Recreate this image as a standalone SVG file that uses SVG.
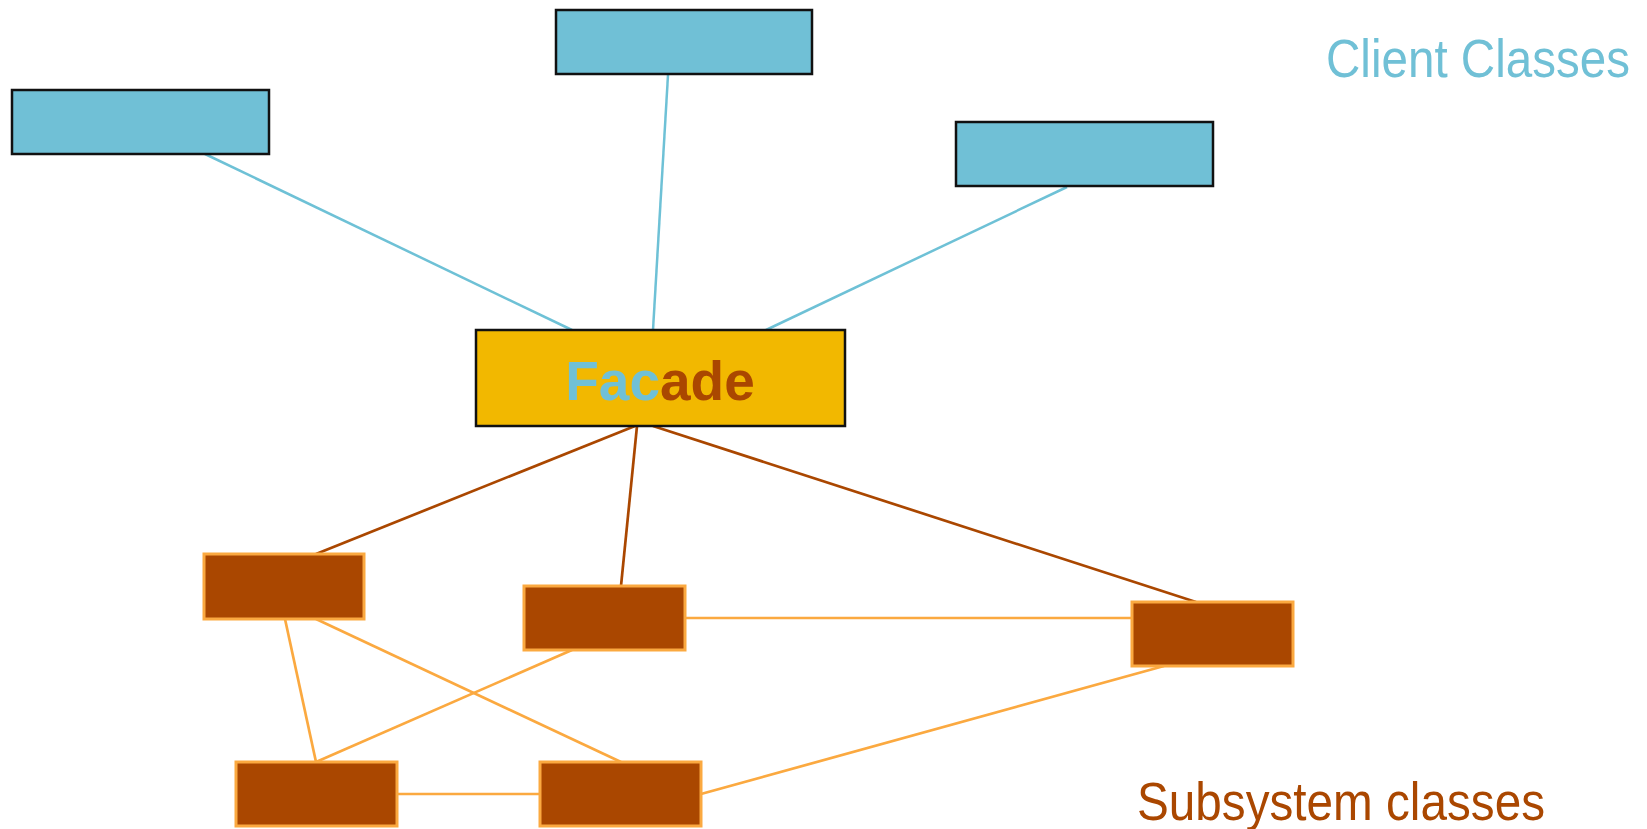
<svg xmlns="http://www.w3.org/2000/svg" width="1647" height="829" viewBox="0 0 1647 829">
<style>
.client{fill:#70C0D6;stroke:#111;stroke-width:2.5}
.sub{fill:#AA4700;stroke:#FBA940;stroke-width:3}
.facade{fill:#F2B800;stroke:#111;stroke-width:2.5}
.cl{stroke:#6EC1D6;stroke-width:2.5;fill:none}
.br{stroke:#AA4700;stroke-width:2.7;fill:none}
.or{stroke:#FBA940;stroke-width:2.7;fill:none}
.lbl{font-family:"Liberation Sans",Arial,sans-serif;font-size:53px}
</style>
<rect width="1647" height="829" fill="#fff"/>
<g id="connectors">
<line class="cl" x1="205" y1="154" x2="572" y2="330"/>
<line class="cl" x1="668" y1="75" x2="653" y2="330"/>
<line class="cl" x1="1067" y1="187" x2="766" y2="330"/>
<line class="br" x1="635" y1="426" x2="316" y2="554"/>
<line class="br" x1="637" y1="426" x2="621" y2="586"/>
<line class="br" x1="653" y1="426" x2="1196" y2="602"/>
<line class="or" x1="685" y1="618" x2="1132" y2="618"/>
<line class="or" x1="285" y1="619" x2="316" y2="762"/>
<line class="or" x1="316" y1="619" x2="621" y2="762"/>
<line class="or" x1="572" y1="650" x2="316" y2="762"/>
<line class="or" x1="397" y1="794" x2="540" y2="794"/>
<line class="or" x1="701" y1="794" x2="1164" y2="666"/>
</g>
<g id="client1"><rect class="client" x="12" y="90" width="257" height="64"/></g>
<g id="client2"><rect class="client" x="556" y="10" width="256" height="64"/></g>
<g id="client3"><rect class="client" x="956" y="122" width="257" height="64"/></g>
<g id="facade">
<rect class="facade" x="476" y="330" width="369" height="96"/>
<text x="660" y="400" text-anchor="middle" font-family="'Liberation Sans',Arial,sans-serif" font-weight="bold" font-size="55"><tspan fill="#70C0D6">Fac</tspan><tspan fill="#AA4700">ade</tspan></text>
</g>
<g id="subA"><rect class="sub" x="204" y="554" width="160" height="65"/></g>
<g id="subB"><rect class="sub" x="524" y="586" width="161" height="64"/></g>
<g id="subC"><rect class="sub" x="1132" y="602" width="161" height="64"/></g>
<g id="subD"><rect class="sub" x="236" y="762" width="161" height="64"/></g>
<g id="subE"><rect class="sub" x="540" y="762" width="161" height="64"/></g>
<g id="labels">
<text class="lbl" x="1326" y="77" fill="#70C0D6" textLength="304" lengthAdjust="spacingAndGlyphs">Client Classes</text>
<text class="lbl" x="1137" y="820" fill="#AA4700" textLength="408" lengthAdjust="spacingAndGlyphs">Subsystem classes</text>
</g>
</svg>
